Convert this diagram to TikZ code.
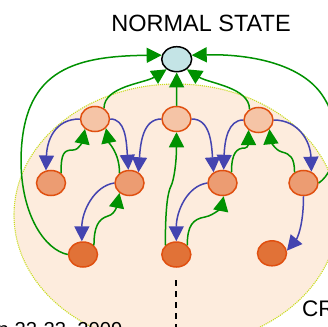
\documentclass[tikz,border=0pt]{standalone}
\usepackage{fontspec}
\setmainfont{Liberation Sans}
\usetikzlibrary{shapes.geometric,arrows.meta}
\definecolor{gr}{RGB}{0,145,0}
\definecolor{bl}{RGB}{68,68,176}
\definecolor{orb}{RGB}{224,80,16}
\definecolor{fone}{RGB}{245,196,166}
\definecolor{ftwo}{RGB}{236,156,114}
\definecolor{fthree}{RGB}{225,114,55}
\definecolor{ftop}{RGB}{196,228,230}
\definecolor{bgf}{RGB}{253,236,221}
\definecolor{bgd}{RGB}{200,220,30}
\tikzset{
  st/.style={ellipse,draw=orb,line width=1.5pt,minimum width=29pt,minimum height=25pt,inner sep=0pt},
  lone/.style={st,fill=fone},
  ltwo/.style={st,fill=ftwo},
  lthree/.style={st,fill=fthree},
  topst/.style={ellipse,draw=black,line width=1.5pt,fill=ftop,minimum width=30pt,minimum height=25pt,inner sep=0pt},
  garr/.style={draw=gr,line width=1.5pt,-{Triangle[length=15pt,width=15pt]},fill=none},
  barr/.style={draw=bl,line width=1.5pt,-{Triangle[length=15pt,width=15pt]},fill=none},
  lbl/.style={font=\fontsize{23.5pt}{26pt}\selectfont,inner sep=0pt,anchor=base}
}
\begin{document}
\begin{tikzpicture}[x=1pt,y=-1pt]
\useasboundingbox (0,0) rectangle (328,326);
% background
\fill[bgf] (176,215) ellipse [x radius=162, y radius=131];
\draw[bgd,line width=1.1pt,densely dotted] (176,215) ellipse [x radius=162, y radius=131];
% title and texts
\node[lbl] (title) at (201,31.7) {NORMAL STATE};
\node[lbl,anchor=base west,font=\fontsize{22.5pt}{25pt}\selectfont] (cr) at (302,316) {CR};
\node[lbl,anchor=base west,font=\fontsize{20.2pt}{23pt}\selectfont] (date) at (-2.5,336) {n 22-23, 2009};
% dashed line
\coordinate (d1) at (176,280);
\coordinate (d2) at (176,330);
\draw[black,line width=1.4pt,dash pattern=on 6pt off 5pt] (d1) -- (d2);
% nodes
\node[topst] (top) at (176.7,59.2) {};
\node[lone] (a1) at (95,119) {};
\node[lone] (b1) at (176.5,119) {};
\node[lone] (c1) at (258.5,120) {};
\node[ltwo] (a2) at (51,183) {};
\node[ltwo] (b2) at (129.5,183) {};
\node[ltwo] (c2) at (222.5,183) {};
\node[ltwo] (d2n) at (303.5,183) {};
\node[lthree] (a3) at (83,254.5) {};
\node[lthree] (b3) at (176.3,254.5) {};
\node[lthree] (c3) at (272,253.3) {};
% green to top
\draw[garr] (a3.west) .. controls (45,250) and (21,215) .. (21,160) .. controls (22,72) and (70,56) .. (top.165);
\draw[garr] (d2n.east) .. controls (338,170) and (345,125) .. (320,92) .. controls (295,60) and (240,54) .. (top.15);
\draw[garr] (a1.50) .. controls +(0,-22) and +(-22,14) .. (top.225);
\draw[garr] (b1.north) -- (top.south);
\draw[garr] (c1.130) .. controls +(0,-22) and +(22,14) .. (top.-45);
% blue level1 -> level2
\draw[barr] (a1.west) .. controls +(-25,0) and +(1,-30) .. (a2.112);
\draw[barr] (a1.east) .. controls +(15,0) and +(-2,-30) .. (b2.95);
\draw[barr] (b1.west) .. controls +(-18,0) and +(2,-30) .. (b2.50);
\draw[barr] (b1.east) .. controls +(18,0) and +(-2,-30) .. (c2.130);
\draw[barr] (c1.west) .. controls +(-15,0) and +(1,-30) .. (c2.85);
\draw[barr] (c1.east) .. controls +(25,0) and +(-1,-30) .. (d2n.55);
% green level2 -> level1
\draw[garr] (a2.45) .. controls +(0,-20) and +(-9,0) .. (73,150) .. controls +(7,0) and +(-2,10) .. (a1.225);
\draw[garr] (b2.135) .. controls +(0,-20) and +(3,15) .. (a1.-40);
\draw[garr] (b3.140) .. controls +(0,-40) and +(-3,6) .. (171,186) .. controls +(3,-6) and +(0,30) .. (b1.south);
\draw[garr] (c2.50) .. controls +(0,-20) and +(-8,0) .. (245,148) .. controls +(4,0) and +(0,10) .. (c1.225);
\draw[garr] (d2n.130) .. controls +(0,-15) and +(8,2) .. (282,152) .. controls +(-8,-2) and +(1,10) .. (c1.-40);
% blue level2 -> level3
\draw[barr] (b2.west) .. controls +(-20,3) and +(0,-30) .. (a3.95);
\draw[barr] (c2.west) .. controls +(-20,3) and +(0,-30) .. (b3.north);
\draw[barr] (d2n.south) .. controls +(0,30) and +(10,-12) .. (c3.10);
% green level3 -> level2
\draw[garr] (a3.40) .. controls +(0,-18) and +(-10,3) .. (108,216) .. controls +(8,-2) and +(-2,10) .. (b2.225);
\draw[garr] (b3.40) .. controls +(0,-20) and +(-12,2) .. (205,217) .. controls +(10,-2) and +(-2,10) .. (c2.-85);
\end{tikzpicture}
\end{document}
